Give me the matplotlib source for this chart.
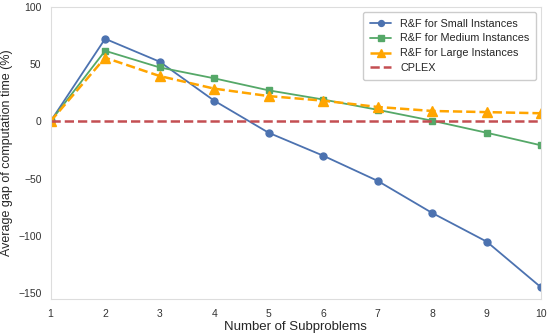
import numpy as np
import matplotlib
matplotlib.use("Agg")
from matplotlib import pyplot as plt
import seaborn as sns

### number of subproblems on the x axis
n_sub = [1, 2, 3, 4, 5, 6, 7, 8, 9, 10]
### average gap of computation time (%) for each instance size
gap_small = [0, 72, 52, 18, -10, -30, -52, -80, -105, -145]
gap_medium = [0, 61.5, 47, 37.5, 27, 19, 10, 0.5, -10, -21]
gap_large = [0, 55.5, 39.5, 28.5, 22, 18, 12.5, 9, 8, 7]
cplex = [0] * len(n_sub)

sns.set_style("white")
plt.rcParams['font.family'] = ['Liberation Sans', 'DejaVu Sans']

fig, ax = plt.subplots(figsize=(5.5, 3.34), dpi=100)
ax.plot(n_sub, gap_small, '-o', color='#4C72B0', lw=1.3, ms=5, label='R&F for Small Instances')
ax.plot(n_sub, gap_medium, '-s', color='#55A868', lw=1.3, ms=5, label='R&F for Medium Instances')
ax.plot(n_sub, gap_large, '--^', color='orange', lw=1.8, ms=7, label='R&F for Large Instances')
ax.plot(n_sub, cplex, '--', color='#C44E52', lw=1.8, label='CPLEX')

ax.set_xlim(1, 10)
ax.set_ylim(-155, 100)
ax.set_xticks(n_sub)
ax.set_yticks([-150, -100, -50, 0, 50, 100])
ax.tick_params(labelsize=7.5, colors='#333333')
ax.tick_params(axis='x', pad=4)
ax.tick_params(axis='y', pad=3)
ax.set_xlabel('Number of Subproblems', fontsize=9.5, labelpad=1)
ax.set_ylabel('Average gap of computation time (%)', fontsize=9, labelpad=4)
for s in ax.spines.values():
    s.set_color('#dddddd')
ax.legend(loc='upper right', fontsize=7.8, framealpha=1, borderpad=0.6,
          handlelength=2.0, labelspacing=0.45, markerscale=0.85)

fig.subplots_adjust(left=0.092, right=0.984, top=0.98, bottom=0.105)
fig.savefig('out.png')
